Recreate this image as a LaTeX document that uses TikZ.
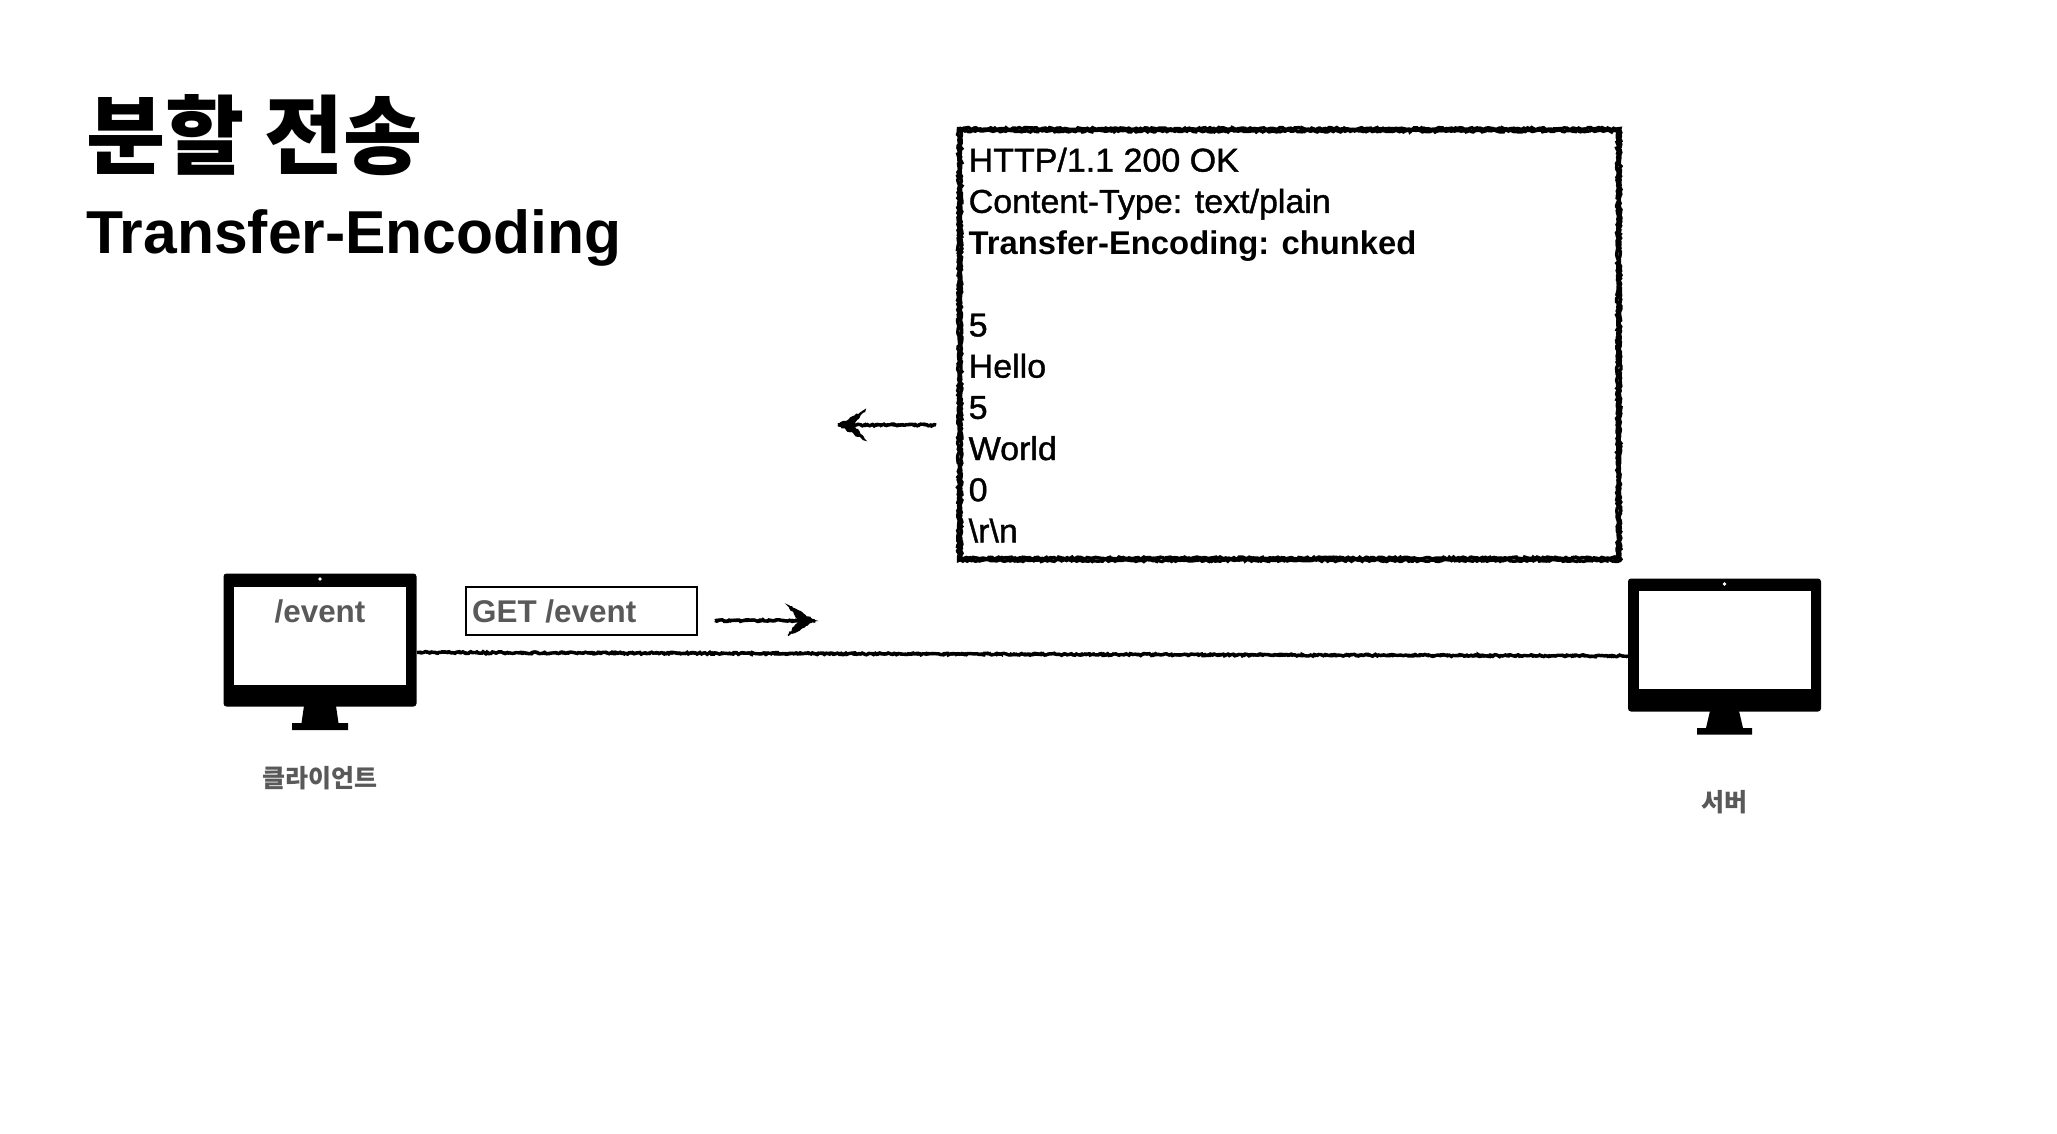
\documentclass[tikz,border=0pt]{standalone}
\usepackage{fontspec}
\usetikzlibrary{decorations.pathmorphing,calc}
\setmainfont{Liberation Sans}
\newfontfamily\medf[FakeBold=1.2,FakeStretch=1.03]{Liberation Sans}
\newfontfamily\krf{Noto Sans CJK KR}
\definecolor{labelgray}{HTML}{595959}
\pgfmathsetseed{7}
\tikzset{
  x=1pt,y=-1pt,
  rough/.style={decorate,decoration={random steps,segment length=2pt,amplitude=1pt}},
  sketchline/.style={rough,draw=black,line width=3.4pt},
  sketchbox/.style={rough,draw=black,line width=3.4pt},
  monitor/.style={fill=black,rounded corners=3pt,inner sep=0pt,minimum width=193pt,minimum height=133pt},
  screen/.style={fill=white,inner sep=0pt,minimum width=172pt,minimum height=98pt},
  mlabel/.style={inner sep=0pt,text=labelgray,font=\krf\bfseries\fontsize{25}{25}\selectfont},
  gray bold/.style={inner sep=0pt,text=labelgray,font=\bfseries\fontsize{31.4}{32}\selectfont},
  rhead/.pic={
    \draw[rough,fill=black,line width=1.4pt] (-1,0) -- (-27,-15) -- (-15,0) -- (-27,15) -- cycle;
  }
}
\begin{document}
\begin{tikzpicture}
\useasboundingbox (0,0) rectangle (2057,1133);
\fill[white] (0,0) rectangle (2057,1133);
% title
\node[anchor=west,inner sep=0pt,font=\krf\bfseries\fontsize{86}{86}\selectfont] (title) at (86,135) {분할 전송};
\node[anchor=base west,inner sep=0pt,font=\bfseries\fontsize{60.6}{61}\selectfont] (subtitle) at (86,253) {Transfer-Encoding};
% client
\node[monitor] (client) at (320,640) {};
\node[screen] (clientscreen) at (320,635.5) {};
\fill[white] (320,579) circle (1.8);
\fill[black] (304,706) -- (336,706) -- (338.5,723) -- (348,723) -- (348,730) -- (292,730) -- (292,723) -- (301.5,723) -- cycle;
\node[gray bold,anchor=base] (clientpath) at (320,622) {/event};
\node[mlabel] (clientlabel) at (320,778) {클라이언트};
% server
\node[monitor] (server) at (1724.5,645) {};
\node[screen] (serverscreen) at (1724.5,640) {};
\fill[white] (1724.5,584) circle (1.8);
\fill[black] (1710,711) -- (1739,711) -- (1743,728) -- (1752,728) -- (1752,734.5) -- (1697,734.5) -- (1697,728) -- (1706,728) -- cycle;
\node[mlabel] (serverlabel) at (1724.5,802) {서버};
% connection
\coordinate (linea) at (417,652.5);
\coordinate (lineb) at (1628,656);
\draw[sketchline] (linea) -- (lineb);
\draw[sketchline,line width=2.4pt] (linea) -- (lineb);
% request
\node[draw=black,line width=2pt,inner sep=0pt,minimum width=231pt,minimum height=48pt] (req) at (581.5,610.5) {};
\node[gray bold,anchor=base west] (reqtext) at (472,622) {GET /event};
\coordinate (reqa) at (715,620.5);
\coordinate (reqb) at (815,620.5);
\draw[sketchline] (reqa) -- (reqb);
\draw[sketchline,line width=2.4pt] (reqa) -- (reqb);
\pic at (reqb) {rhead};
% response
\draw[sketchbox] (958.5,128.5) -- (1620,128.5) -- (1620,560.5) -- (958.5,560.5) -- cycle;
\draw[sketchbox] (961,131) -- (1617.5,131) -- (1617.5,558) -- (961,558) -- cycle;
\node[anchor=north west,inner sep=0pt,align=left,font=\medf\fontsize{33}{41.2}\selectfont] (resptext) at (968.5,147.5) {HTTP/1.1 200 OK\\Content-Type: text/plain\\{\normalfont\bfseries\fontsize{32.8}{41.2}\selectfont Transfer-Encoding: chunked}\\\mbox{}\\5\\Hello\\5\\World\\0\\\textbackslash r\textbackslash n};
\coordinate (respa) at (936,425);
\coordinate (respb) at (838,425);
\draw[sketchline] (respa) -- (respb);
\draw[sketchline,line width=2.4pt] (respa) -- (respb);
\pic[rotate=180] at (respb) {rhead};
\end{tikzpicture}
\end{document}
